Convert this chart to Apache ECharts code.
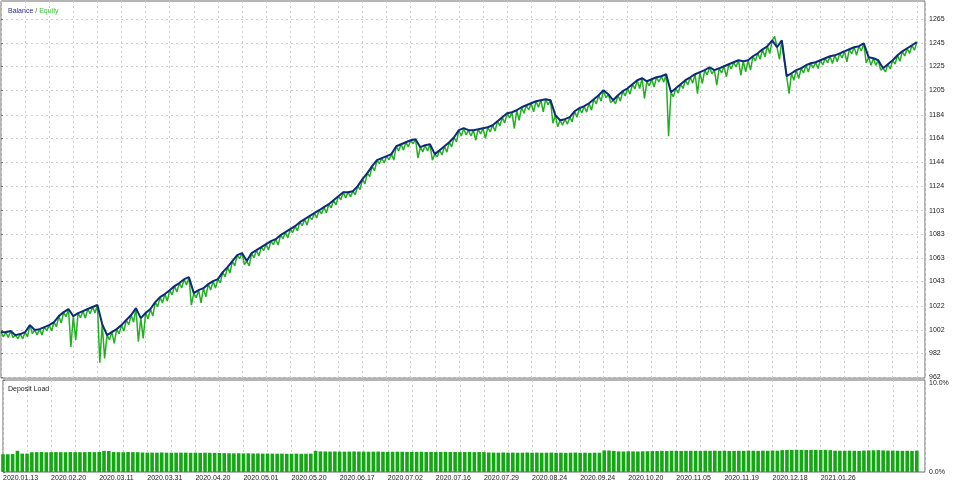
<!DOCTYPE html>
<html>
<head>
<meta charset="utf-8">
<script src="https://cdn.jsdelivr.net/npm/echarts@6/dist/echarts.min.js"></script>
<style>
html,body{margin:0;padding:0;background:#fff;}
#chart{width:960px;height:483px;}
</style>
</head>
<body>
<div id="chart"></div>
<script>
// Balance after each trade (index = trade number)
const balance = [
1000.1,1000.0,1001.0,997.5,998.4,1000.0,1006.0,1001.8,1002.6,1004.3,
1006.0,1008.6,1013.6,1017.0,1019.6,1013.6,1016.2,1017.9,1019.6,1021.3,
1023.0,1006.9,997.5,1000.1,1002.6,1006.0,1010.3,1014.5,1020.4,1011.9,
1016.2,1019.6,1025.5,1029.7,1032.3,1035.6,1039.0,1041.6,1044.9,1046.6,
1033.1,1035.6,1037.3,1040.7,1043.3,1044.9,1050.9,1055.1,1060.2,1065.3,
1067.0,1060.2,1067.0,1069.5,1072.1,1074.6,1077.1,1078.8,1082.2,1084.7,
1087.3,1089.8,1093.2,1095.7,1098.3,1100.8,1103.3,1105.9,1108.4,1111.8,
1115.2,1118.6,1118.6,1119.4,1123.7,1129.6,1134.7,1140.6,1145.7,1147.4,
1149.1,1150.8,1157.5,1159.2,1160.9,1162.6,1163.4,1156.7,1158.4,1159.2,
1150.8,1154.1,1157.5,1160.9,1165.1,1171.1,1172.8,1171.1,1171.1,1171.9,
1172.8,1173.6,1175.3,1178.7,1182.1,1185.5,1186.3,1188.0,1190.5,1192.2,
1193.9,1195.6,1196.5,1197.3,1196.5,1183.8,1179.5,1180.4,1182.1,1187.1,
1189.7,1191.4,1193.9,1197.3,1200.7,1204.9,1201.5,1196.5,1200.7,1204.1,
1206.6,1210.0,1213.4,1215.1,1212.5,1214.2,1215.9,1216.8,1218.5,1203.2,
1206.6,1210.0,1213.4,1215.9,1218.5,1220.2,1221.9,1224.4,1221.9,1223.5,
1225.2,1226.9,1228.6,1230.3,1229.5,1230.3,1233.7,1236.2,1239.6,1242.2,
1247.2,1241.3,1247.2,1216.8,1219.3,1221.9,1223.5,1226.1,1227.8,1228.6,
1230.3,1232.0,1233.7,1234.5,1236.2,1237.9,1239.6,1241.3,1242.2,1244.7,
1232.9,1232.0,1230.3,1223.5,1226.9,1230.3,1234.5,1237.9,1240.5,1243.0,
1245.6
];
// Lowest equity reached while trade i -> i+1 was open
const equityLow = [
996.0,995.5,995.5,994.5,994.4,996.0,998.8,997.8,997.6,1001.3,
1001.0,1004.6,1007.6,1013.0,987.4,993.3,1012.2,1011.9,1015.6,1016.3,
974.1,977.8,993.5,990.5,998.6,1001.0,1006.3,1008.5,991.9,994.8,
1011.2,1013.6,1021.5,1024.7,1026.3,1031.6,1034.0,1037.6,1039.9,1022.9,
1029.1,1024.9,1030.0,1035.7,1037.3,1041.9,1046.9,1050.1,1056.2,1062.3,
1057.2,1056.2,1063.0,1064.5,1069.1,1069.6,1074.1,1073.8,1079.2,1079.7,
1084.3,1085.8,1090.2,1090.7,1095.3,1096.8,1100.3,1100.9,1105.4,1107.8,
1112.2,1113.6,1114.6,1116.4,1120.7,1125.6,1131.7,1136.6,1142.7,1143.4,
1146.1,1145.8,1153.5,1154.2,1156.9,1159.6,1147.5,1152.7,1153.4,1145.7,
1148.5,1150.1,1152.5,1156.9,1161.1,1166.1,1167.1,1166.1,1162.6,1167.9,
1164.1,1169.6,1170.3,1174.7,1177.1,1181.5,1172.5,1179.5,1185.5,1188.2,
1186.6,1190.6,1186.6,1192.5,1177.0,1173.9,1175.3,1176.1,1178.1,1182.1,
1185.7,1186.4,1188.0,1193.3,1195.7,1198.5,1194.5,1193.5,1195.7,1200.1,
1201.6,1206.0,1206.4,1197.9,1208.5,1207.7,1211.9,1211.8,1166.0,1199.3,
1202.6,1206.4,1209.4,1210.9,1202.1,1210.6,1217.9,1218.9,1209.2,1219.5,
1216.2,1222.9,1224.6,1217.6,1220.4,1221.9,1229.7,1231.2,1233.1,1236.0,
1250.5,1231.0,1230.0,1202.1,1213.4,1214.8,1219.5,1220.4,1223.8,1223.3,
1226.3,1228.0,1227.5,1229.0,1232.2,1228.9,1235.6,1234.5,1238.2,1228.0,
1226.1,1226.0,1221.9,1220.4,1222.9,1227.0,1229.5,1233.9,1236.0,1238.8
];
// Deposit load, percent, per trade
const depositLoad = [
1.93,1.93,1.95,2.30,2.00,2.00,
2.15,2.16,2.17,2.15,2.16,2.17,2.16,2.15,2.17,2.16,2.15,2.16,2.17,2.16,2.18,
2.30,2.28,
2.17,2.16,2.15,2.17,2.16,2.15,
2.12,2.10,2.11,2.10,2.12,2.10,2.09,2.10,2.11,2.10,2.09,2.10,2.08,2.10,2.09,2.08,2.07,
2.05,2.04,2.03,2.04,2.02,2.03,2.01,2.02,2.00,2.01,2.00,1.99,2.00,1.98,1.99,2.00,1.98,1.99,
2.00,2.30,
2.24,2.23,2.22,2.23,2.22,2.21,2.22,2.23,2.22,2.21,2.20,2.21,2.22,2.20,2.19,2.20,2.21,2.20,2.19,2.18,2.19,2.20,2.18,2.19,2.17,2.18,2.19,2.17,2.18,2.16,2.17,2.18,2.16,2.17,2.16,
2.12,2.11,2.10,2.12,2.10,2.11,2.09,2.10,2.12,2.10,2.11,2.09,2.10,2.11,2.09,2.10,2.08,2.10,2.11,2.09,2.10,2.08,2.10,2.09,
2.35,2.34,2.30,
2.24,2.23,2.25,2.24,2.23,2.25,2.26,2.27,
2.28,2.30,2.29,2.31,2.30,2.29,2.30,2.31,2.30,2.29,2.31,2.30,2.32,2.30,2.31,2.29,2.30,2.31,2.30,2.32,2.31,2.30,2.32,2.31,2.33,2.32,
2.38,2.40,2.39,2.41,2.40,2.39,2.41,2.40,2.39,2.40,2.38,
2.32,2.31,2.30,2.32,2.31,2.30,2.33,2.34,2.36,2.38,2.35,2.33,2.32,2.31,2.30,2.31,2.30,2.32
];
// Tick labels
const dateLabels = ['2020.01.13','2020.02.20','2020.03.11','2020.03.31','2020.04.20','2020.05.01',
  '2020.05.20','2020.06.17','2020.07.02','2020.07.16','2020.07.29','2020.08.24','2020.09.24',
  '2020.10.20','2020.11.05','2020.11.19','2020.12.18','2021.01.26'];
const balanceTicks = [962,982,1002,1022,1043,1063,1083,1103,1124,1144,1164,1184,1205,1225,1245,1265];
const loadTicks = [0,10];

const FONT = 'Liberation Sans';
const balanceData = balance.map((v, i) => [i, v]);
const equityData = [];
for (let i = 0; i < balance.length; i++) {
  equityData.push([i, balance[i]]);
  if (i < equityLow.length) equityData.push([i + 0.5, equityLow[i]]);
}
const loadData = depositLoad.map((v, i) => [i, v]);

const xMax = 191.7;
const gridLineStyle = { color: '#cfcfcf', type: [2, 3], width: 1 };

const chart = echarts.init(document.getElementById('chart'), null, { renderer: 'canvas' });
chart.setOption({
  animation: false,
  backgroundColor: '#ffffff',
  textStyle: { fontFamily: FONT },
  title: [
    {
      text: '{b|Balance} {s|/} {e|Equity}',
      left: 3, top: 3,
      textStyle: {
        fontFamily: FONT, fontSize: 7, fontWeight: 'normal',
        rich: {
          b: { color: '#2a2a9a', fontSize: 7, fontFamily: FONT, fontWeight: 'normal' },
          s: { color: '#555555', fontSize: 7, fontFamily: FONT, fontWeight: 'normal' },
          e: { color: '#3cc43c', fontSize: 7, fontFamily: FONT, fontWeight: 'normal' }
        }
      }
    },
    {
      text: 'Deposit Load',
      left: 3, top: 381,
      textStyle: { fontFamily: FONT, fontSize: 7, color: '#222', fontWeight: 'normal' }
    }
  ],
  grid: [
    { left: 1, top: 1, width: 924, height: 377, show: true, borderColor: '#6a6a6a', borderWidth: 1, backgroundColor: '#fff' },
    { left: 1, top: 380, width: 924, height: 92, show: true, borderColor: '#6a6a6a', borderWidth: 1, backgroundColor: '#fff' }
  ],
  xAxis: [
    {
      gridIndex: 0, type: 'value', min: 0, max: xMax, interval: 5,
      axisLine: { show: false }, axisTick: { show: false }, axisLabel: { show: false },
      splitLine: { show: true, lineStyle: gridLineStyle }
    },
    {
      gridIndex: 1, type: 'value', min: 0, max: xMax, interval: 5,
      axisLine: { show: false }, axisTick: { show: false },
      axisLabel: {
        show: true, align: 'left', margin: 3, fontSize: 7, fontFamily: FONT, color: '#222',
        formatter: (v) => (v % 10 === 0 && dateLabels[v / 10]) ? dateLabels[v / 10] : ''
      },
      splitLine: { show: true, lineStyle: gridLineStyle }
    }
  ],
  yAxis: [
    {
      gridIndex: 0, type: 'value', position: 'right', min: 961.2, max: 1280.5,
      axisLine: { show: false },
      axisTick: { show: true, length: 2, lineStyle: { color: '#707070' }, customValues: balanceTicks },
      axisLabel: { show: true, margin: 4, fontSize: 7, fontFamily: FONT, color: '#222', customValues: balanceTicks,
        formatter: (v) => String(v) },
      splitLine: { show: true, lineStyle: gridLineStyle }
    },
    {
      gridIndex: 1, type: 'value', position: 'right', min: 0, max: 10,
      axisLine: { show: false },
      axisTick: { show: true, length: 2, lineStyle: { color: '#707070' }, customValues: loadTicks },
      axisLabel: { show: true, margin: 4, fontSize: 7, fontFamily: FONT, color: '#222', customValues: loadTicks,
        verticalAlignMaxLabel: 'top',
        formatter: (v) => v.toFixed(1) + '%' },
      splitLine: { show: false }
    }
  ],
  series: [
    {
      name: 'Equity', type: 'line', xAxisIndex: 0, yAxisIndex: 0, data: equityData,
      showSymbol: false, symbol: 'none', lineStyle: { color: '#22b022', width: 1.5 }, z: 2
    },
    {
      name: 'Balance', type: 'line', xAxisIndex: 0, yAxisIndex: 0, data: balanceData,
      showSymbol: false, symbol: 'none', lineStyle: { color: '#0e2a78', width: 2 }, z: 3
    },
    {
      name: 'Deposit Load', type: 'bar', xAxisIndex: 1, yAxisIndex: 1, data: loadData,
      barWidth: 3.6, itemStyle: { color: '#12a812' }
    }
  ]
});
</script>
</body>
</html>
